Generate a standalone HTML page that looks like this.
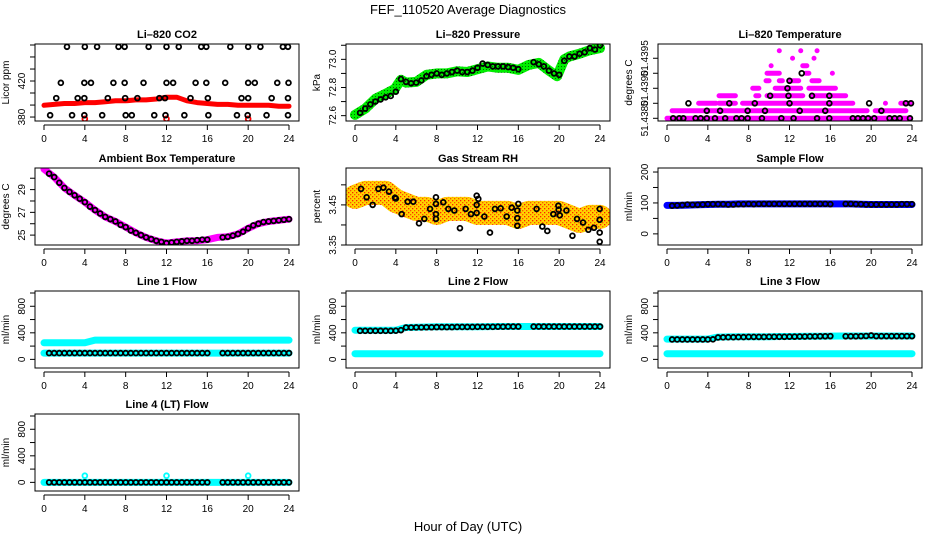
<!DOCTYPE html>
<html><head><meta charset="utf-8"><style>
body{margin:0;background:#fff}
svg{display:block;font-family:"Liberation Sans",Arial,sans-serif}
</style></head><body>
<svg id="chart" width="936" height="540" viewBox="0 0 936 540">
<defs>
<pattern id="rhpat" width="4" height="4" patternUnits="userSpaceOnUse">
<rect width="4" height="4" fill="#ffd400"/><rect width="1.3" height="1.3" fill="#ff2000"/><rect x="2" y="2" width="1.3" height="1.3" fill="#ff5000"/>
</pattern>
<pattern id="grpat" width="3" height="3" patternUnits="userSpaceOnUse">
<rect width="3" height="3" fill="#00ee00"/><rect width="1" height="1" fill="#006600"/>
</pattern>
</defs>
<text x="468" y="14" text-anchor="middle" font-size="13">FEF_110520  Average Diagnostics</text>
<text x="468" y="531" text-anchor="middle" font-size="13">Hour of Day (UTC)</text>
</svg>
<script>
// ---------- data ----------
const hours = [0,1,2,3,4,5,6,7,8,9,10,11,12,13,14,15,16,17,18,19,20,21,22,23,24];
const blackT = [0.5,1,1.5,2,2.5,3,3.5,4,4.5,5,5.5,6,6.5,7,7.5,8,8.5,9,9.5,10,10.5,11,11.5,12,12.5,13,13.5,14,14.5,15,15.5,16,17.5,18,18.5,19,19.5,20,20.5,21,21.5,22,22.5,23,23.5,24];
const xTicks = [0,4,8,12,16,20,24];

const co2Red = [393,394,395,395,396,396,397,398,398,399,399,400,402,402,398,396,395,394,394,393,393,393,393,392,392];
const co2T = [2.25,4.0,5.2,7.3,7.9,10.25,12.0,13.2,15.4,15.9,18.25,20.0,21.2,23.4,23.9,
 1.65,3.95,4.6,6.8,7.9,9.75,12.0,12.65,14.85,15.9,17.75,20.0,20.65,22.85,23.95,
 1.2,3.3,3.95,6.25,7.95,9.15,11.3,11.85,14.35,16.05,19.35,20.0,22.3,23.9,
 0.6,2.75,3.95,5.7,8.0,8.6,10.8,11.9,13.75,16.1,18.9,19.95,21.8,23.9];
const co2V = [458,458,458,458,458,458,458,458,458,458,458,458,458,458,458,
 418,418,418,418,418,418,418,418,418,418,418,418,418,418,418,
 401,401,401,401,401,401,401,401,401,401,401,401,401,401,
 382,382,382,382,382,382,382,382,382,382,382,382,382,382];
const co2RedT = [4,12,20];
const co2RedV = [378,378,378];

const presT = [0,1,2,3,3.9,4.5,5,6,7,8,9,10,11,12,13,14,15,16,17,18,19,19.8,20.5,21,22,23,24];
const presV = [72.605,72.65,72.72,72.755,72.79,72.855,72.835,72.84,72.89,72.9,72.9,72.915,72.91,72.93,72.95,72.94,72.94,72.925,72.96,72.975,72.92,72.88,73.0,73.02,73.04,73.065,73.08];
const presBlack = [72.62,72.65,72.68,72.7,72.715,72.73,72.74,72.77,72.86,72.84,72.83,72.835,72.85,72.88,72.89,72.9,72.89,72.9,72.91,72.92,72.91,72.91,72.92,72.94,72.97,72.96,72.95,72.95,72.95,72.945,72.94,72.93,72.98,72.965,72.95,72.92,72.9,72.89,72.99,73.02,73.02,73.04,73.05,73.08,73.07,73.1];

const tempLevelStep = 0.00005;
const tempBase = 51.4380;
const tempSegLevel = [0,1,1,2,2,2,2,2,3,3,3,3,4,4,4,5,5,5,5,6,6,6,7,7,8,8,9,9,9];
const tempSegStart = [0,0.5,20.4,3.1,5.1,7.4,21.4,22.9,5.1,8.7,9.8,14.2,8.4,10.6,13.9,9.7,11.0,12.1,14.2,9.8,13.6,16.2,10.2,13.3,12.3,14.4,11.0,13.1,14.7];
const tempSegEnd = [23.8,19.6,23.4,4.8,6.7,18.2,21.4,23.8,6.7,9.0,13.3,17.5,9.0,13.1,16.5,10.0,11.3,12.9,14.9,11.0,13.9,16.2,10.2,13.7,12.3,14.4,11.0,13.1,14.7];
const tempBlackT = [0.6,1.2,1.6,2.8,3.3,3.9,4.7,5.7,6.8,7.3,7.9,9.3,11.2,12.4,14.7,15.9,18.2,18.7,19.2,19.7,20.3,21.8,22.3,22.8,23.8,
 3.9,5.2,7.9,9.6,13.0,15.5,21.0, 2.1,6.1,8.6,12.0,15.9,19.8,23.4,23.9, 10.1,11.9,14.2,15.9, 11.8,12.0,13.2];
const tempBlackLevel = [0,0,0,0,0,0,0,0,0,0,0,0,0,0,0,0,0,0,0,0,0,0,0,0,0,
 1,1,1,1,1,1,1, 2,2,2,2,2,2,2,2, 3,3,3,3, 4,5,6];

const ambBand = [30.8,30.1,29.15,28.5,27.9,27.2,26.6,26.2,25.7,25.2,24.8,24.5,24.3,24.4,24.5,24.5,24.6,24.8,24.85,25.1,25.6,26.0,26.2,26.3,26.4];
const ambBlack = [30.4,30.1,29.6,29.15,28.8,28.5,28.2,27.9,27.5,27.2,26.9,26.6,26.4,26.2,25.9,25.7,25.4,25.2,25.0,24.8,24.65,24.5,24.4,24.3,24.35,24.4,24.45,24.5,24.5,24.55,24.6,24.6,24.8,24.85,24.95,25.1,25.3,25.6,25.85,26.0,26.15,26.2,26.25,26.3,26.35,26.4];

const rhBand = [3.47,3.48,3.48,3.48,3.46,3.45,3.44,3.44,3.43,3.44,3.44,3.44,3.43,3.43,3.43,3.43,3.42,3.43,3.43,3.43,3.43,3.42,3.41,3.42,3.42];
const rhT = [0.59,1.14,1.73,2.29,2.78,3.33,3.92,4.0,4.57,5.16,5.71,6.27,6.79,7.35,7.93,7.93,7.93,7.93,8.65,9.14,9.73,10.28,10.84,11.36,11.92,11.92,11.92,12.08,12.67,13.22,13.71,14.27,14.86,15.35,15.9,15.9,15.9,16.0,17.79,18.35,18.84,19.43,19.92,19.95,20.06,20.71,21.3,21.75,22.34,22.86,23.41,23.97,23.97,23.97,23.97];
const rhV = [3.490,3.469,3.450,3.490,3.493,3.483,3.468,3.466,3.427,3.458,3.458,3.404,3.415,3.440,3.415,3.427,3.4525,3.469,3.4565,3.440,3.436,3.392,3.440,3.427,3.430,3.473,3.450,3.465,3.421,3.381,3.440,3.4415,3.421,3.443,3.436,3.417,3.398,3.4525,3.440,3.396,3.385,3.427,3.448,3.438,3.424,3.436,3.373,3.415,3.406,3.388,3.393,3.440,3.413,3.381,3.358];

const sampleBand = [92,92,93,94,95,96,96,97,97,97,97,97,97,97,97,97,97,97,97,96,95,95,95,95,95];
const sampleBlack = [91,92,93,95,94,94,95,96,96,96,96,95,95,96,96,97,96,97,97,97,97,97,97,97,97,97,97,97,97,97,97,96,97,97,96,96,95,95,95,95,95,95,95,96,96,96];

const l1Upper = [250,250,250,250,250,290,290,290,290,290,290,290,290,290,290,290,290,290,290,290,290,290,290,290,290];
const l1Lower = [95,95,95,95,95,95,95,95,95,95,95,95,95,95,95,95,95,95,95,95,95,95,95,95,95];
const l1Black = [95,95,95,95,95,95,95,95,95,95,95,95,95,95,95,95,95,95,95,95,95,95,95,95,95,95,95,95,95,95,95,95,95,95,95,95,95,95,95,95,95,95,95,95,95,95];
const l2Upper = [440,440,440,440,440,480,485,488,490,490,490,490,492,494,495,495,495,495,495,495,495,495,495,495,495];
const l2Lower = [85,85,85,85,85,85,85,85,85,85,85,85,85,85,85,85,85,85,85,85,85,85,85,85,85];
const l2Black = [430,430,430,430,430,430,430,432,440,480,480,482,482,484,484,486,486,486,486,488,488,488,488,490,490,490,490,492,492,494,494,494,494,494,494,494,494,494,494,494,494,494,494,494,494,494];
const l3Upper = [305,305,305,305,305,335,338,340,340,342,342,344,345,346,347,348,350,352,352,352,352,352,352,352,352];
const l3Lower = [85,85,85,85,85,85,85,85,85,85,85,85,85,85,85,85,85,85,85,85,85,85,85,85,85];
const l3Black = [300,300,300,300,300,300,300,300,302,330,332,334,334,336,336,338,338,338,338,340,340,340,340,342,342,344,344,346,346,348,348,350,348,348,348,350,352,360,350,350,350,350,350,350,350,350];
const l4Band = [0,0,0,0,0,0,0,0,0,0,0,0,0,0,0,0,0,0,0,0,0,0,0,0,0];
const l4Black = [0,0,0,0,0,0,0,0,0,0,0,0,0,0,0,0,0,0,0,0,0,0,0,0,0,0,0,0,0,0,0,0,0,0,0,0,0,0,0,0,0,0,0,0,0,0];
const l4CyanT = [4,12,20];
const l4CyanV = [100,100,100];

// ---------- rendering ----------
const NS = 'http://www.w3.org/2000/svg';
const svg = document.getElementById('chart');
const colLeft = [35, 346, 658], rowTop = [44, 168, 291, 414];
const W = 264, H = 77;
function mk(tag, attrs, parent){const e=document.createElementNS(NS,tag);for(const k in attrs)e.setAttribute(k,attrs[k]);(parent||svg).appendChild(e);return e;}

function panel(key, col, row, title, ylab, vmin, vmax, yticks, ylabels){
  const L=colLeft[col], T=rowTop[row];
  const g=mk('g',{});
  
  
  const p={g,L,T,
    x:t=>L+9+t*245/24,
    y:v=>T+H-(v-vmin)/(vmax-vmin)*H};
  const clip=mk('clipPath',{id:'clip-'+key},g);
  mk('rect',{x:L,y:T,width:W,height:H},clip);
  p.plot=mk('g',{'clip-path':'url(#clip-'+key+')'},g);
  
  
  const tt=mk('text',{x:L+W/2,y:T-6,'text-anchor':'middle','font-size':'11','font-weight':'bold'},g);
  tt.textContent=title;
  
  
  const yl=mk('text',{transform:`translate(${L-26},${T+H/2}) rotate(-90)`,'text-anchor':'middle','font-size':'10'},g);
  yl.textContent=ylab;
  
  
  p.finish=function(){
    const box=mk('rect',{x:L,y:T,width:W,height:H,fill:'none',stroke:'#000','stroke-width':1},g);
    
    
    const xa=mk('g',{},g);
    
    
    mk('line',{x1:p.x(0),x2:p.x(24),y1:T+H+4,y2:T+H+4,stroke:'#000'},xa);
    xTicks.forEach(t=>{
      mk('line',{x1:p.x(t),x2:p.x(t),y1:T+H+4,y2:T+H+9,stroke:'#000'},xa);
      const lb=mk('text',{x:p.x(t),y:T+H+21,'text-anchor':'middle','font-size':'10'},xa);
      lb.textContent=t;
    });
    const ya=mk('g',{},g);
    
    
    yticks.forEach((v,i)=>{
      const yy=p.y(v);
      mk('line',{x1:L-5,x2:L,y1:yy,y2:yy,stroke:'#000'},ya);
      if(ylabels[i]){
        const lb=mk('text',{transform:`translate(${L-10},${yy}) rotate(-90)`,'text-anchor':'middle','font-size':'10'},ya);
        lb.textContent=ylabels[i];
      }
    });
  };
  return p;
}
function band(p,ts,vs,color,width,name){
  const d=ts.map((t,i)=>(i?'L':'M')+p.x(t).toFixed(1)+','+p.y(vs[i]).toFixed(1)).join(' ');
  const e=mk('path',{d,fill:'none',stroke:color,'stroke-width':width,'stroke-linejoin':'round','stroke-linecap':'round'},p.plot);
  
  
}
function pts(p,ts,vs,color,name,r){
  const g=mk('g',{},p.plot);
  
  
  ts.forEach((t,i)=>mk('circle',{cx:p.x(t),cy:p.y(vs[i]),r:r||2.4,fill:'none',stroke:color,'stroke-width':1.8},g));
}

// CO2
let p=panel('co2',0,0,'Li\u2013820 CO2','Licor ppm',375.6,461.1,[380,393.3,406.7,420,433.3,446.7,460],['380','','','420','','','']);
band(p,hours,co2Red,'#ff0000',5,'co2-red-series');
pts(p,co2RedT,co2RedV,'#ff0000','co2-red-points');
pts(p,co2T,co2V,'#000','co2-black-points');
p.finish();

// Pressure
p=panel('pressure',1,0,'Li\u2013820 Pressure','kPa',72.562,73.109,[72.6,72.7,72.8,72.9,73.0,73.1],['72.6','','72.8','','73.0','']);
band(p,presT,presV,'url(#grpat)',10,'pressure-green-series');
pts(p,blackT,presBlack,'#000','pressure-black-points');
p.finish();

// Temperature
p=panel('temperature',2,0,'Li\u2013820 Temperature','degrees C',51.437982,51.438495,[51.4380,51.4381,51.4382,51.4383,51.4384],['51.4380','','51.4390','','51.4395']);
{const g=mk('g',{},p.plot);
 
 
 tempSegLevel.forEach((k,i)=>{const yy=p.y(tempBase+k*tempLevelStep);
   mk('line',{x1:p.x(tempSegStart[i]),x2:p.x(tempSegEnd[i]),y1:yy,y2:yy,stroke:'#ff00ff','stroke-width':5,'stroke-linecap':'round'},g);});}
pts(p,tempBlackT,tempBlackLevel.map(k=>tempBase+k*tempLevelStep),'#000','temperature-black-points');
p.finish();

// Ambient
p=panel('ambient',0,1,'Ambient Box Temperature','degrees C',24.13,30.9,[25,26,27,28,29,30],['25','','27','','29','']);
band(p,hours,ambBand,'#ff00ff',7,'ambient-magenta-series');
pts(p,blackT,ambBlack,'#000','ambient-black-points');
p.finish();

// RH
p=panel('rh',1,1,'Gas Stream RH','percent',3.35,3.542,[3.35,3.40,3.45,3.50],['3.35','','3.45','']);
band(p,hours,rhBand,'url(#rhpat)',24,'rh-orange-series');
pts(p,rhT,rhV,'#000','rh-black-points');
p.finish();

// Sample flow
p=panel('sample-flow',2,1,'Sample Flow','ml/min',-36,213,[0,50,100,150,200],['0','','100','','200']);
band(p,hours,sampleBand,'#0000ff',7,'sample-blue-series');
pts(p,blackT,sampleBlack,'#000','sample-black-points');
p.finish();

const fT=[0,200,400,600,800,1000], fL=['0','','400','','800',''];
// Line 1
p=panel('line1',0,2,'Line 1 Flow','ml/min',-130,1030,fT,fL);
band(p,hours,l1Upper,'#00ffff',7,'line1-cyan-upper');
band(p,hours,l1Lower,'#00ffff',7,'line1-cyan-lower');
pts(p,blackT,l1Black,'#000','line1-black-points');
p.finish();
// Line 2
p=panel('line2',1,2,'Line 2 Flow','ml/min',-130,1030,fT,fL);
band(p,hours,l2Upper,'#00ffff',7,'line2-cyan-upper');
band(p,hours,l2Lower,'#00ffff',7,'line2-cyan-lower');
pts(p,blackT,l2Black,'#000','line2-black-points');
p.finish();
// Line 3
p=panel('line3',2,2,'Line 3 Flow','ml/min',-130,1030,fT,fL);
band(p,hours,l3Upper,'#00ffff',7,'line3-cyan-upper');
band(p,hours,l3Lower,'#00ffff',7,'line3-cyan-lower');
pts(p,blackT,l3Black,'#000','line3-black-points');
p.finish();
// Line 4
p=panel('line4',0,3,'Line 4 (LT) Flow','ml/min',-130,1030,fT,fL);
band(p,hours,l4Band,'#00ffff',7,'line4-cyan-series');
pts(p,l4CyanT,l4CyanV,'#00ffff','line4-cyan-points');
pts(p,blackT,l4Black,'#000','line4-black-points');
p.finish();
</script>
</body></html>
